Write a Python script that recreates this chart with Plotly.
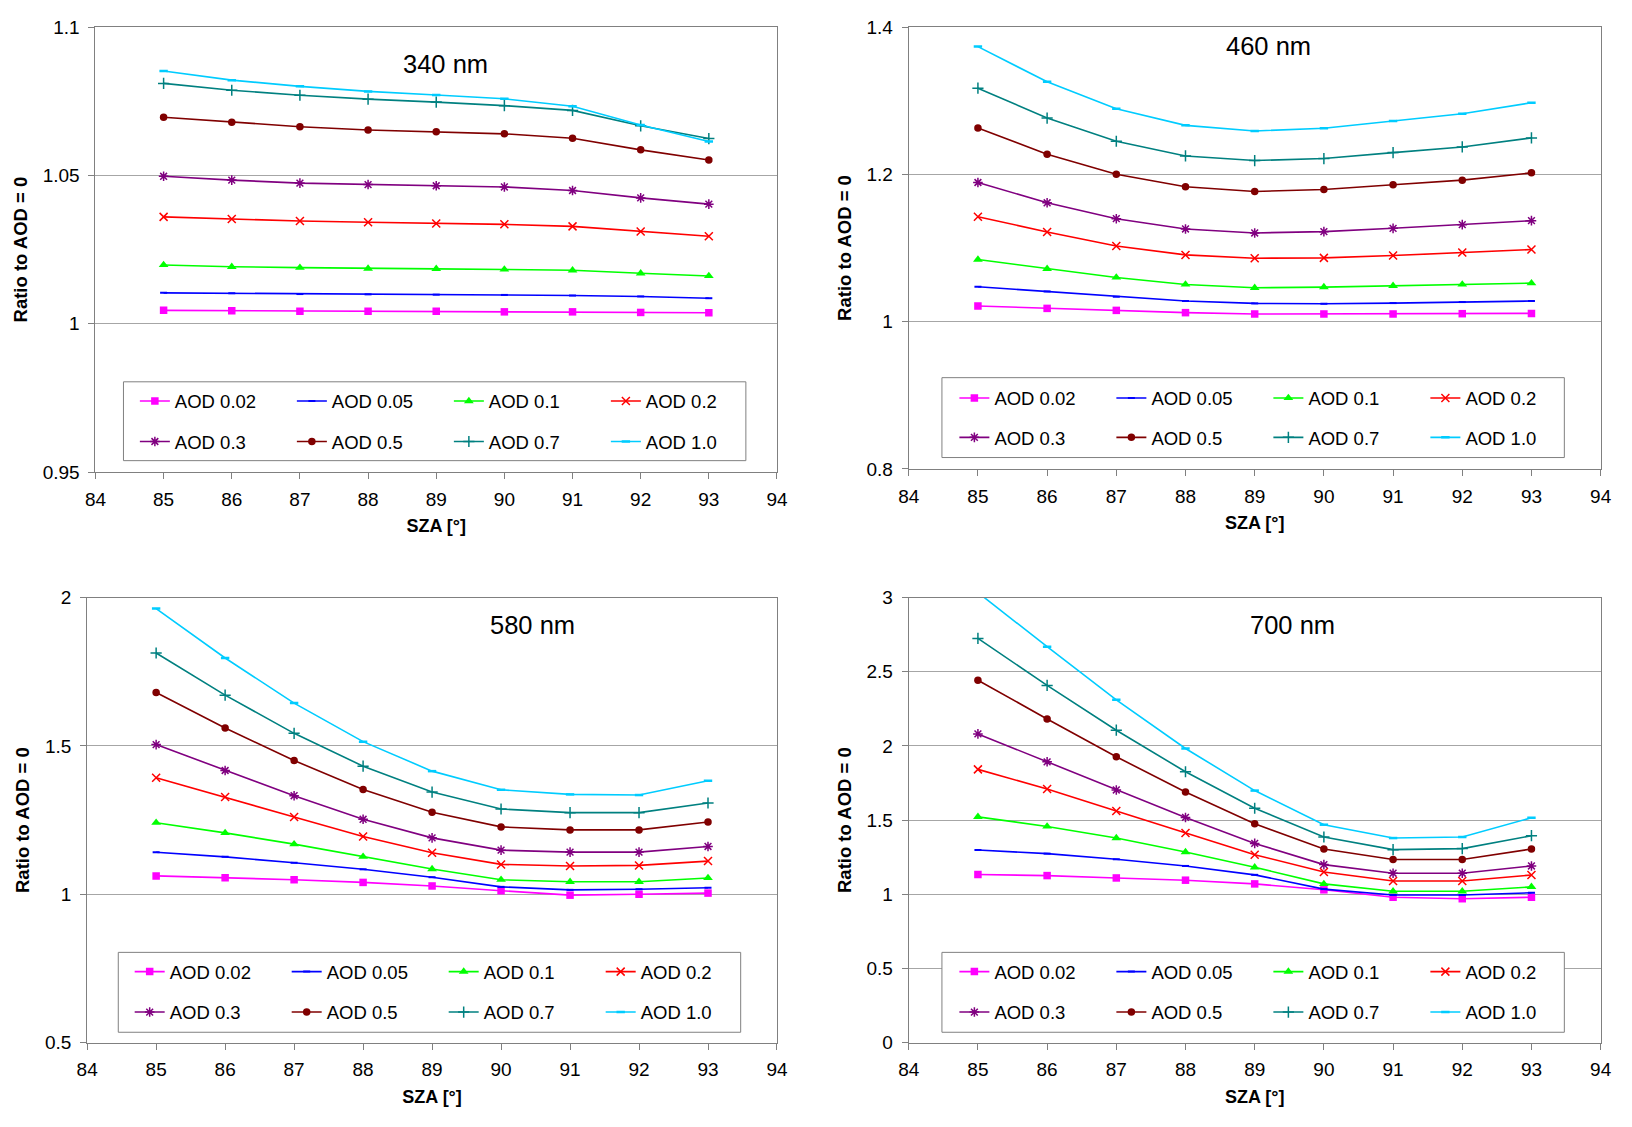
import plotly.graph_objects as go

# ---------------- data ----------------
sza = [85, 86, 87, 88, 89, 90, 91, 92, 93]
aod_labels = ["AOD 0.02", "AOD 0.05", "AOD 0.1", "AOD 0.2",
              "AOD 0.3", "AOD 0.5", "AOD 0.7", "AOD 1.0"]
panel_titles = ["340 nm", "460 nm", "580 nm", "700 nm"]
x_ticks = [84, 85, 86, 87, 88, 89, 90, 91, 92, 93, 94]

# 340 nm
r340_002 = [1.0045, 1.0044, 1.0042, 1.0042, 1.0042, 1.0040, 1.0040, 1.0038, 1.0037]
r340_005 = [1.0104, 1.0103, 1.0100, 1.0099, 1.0098, 1.0097, 1.0095, 1.0092, 1.0086]
r340_01 = [1.0198, 1.0192, 1.0189, 1.0186, 1.0185, 1.0183, 1.0180, 1.0170, 1.0161]
r340_02 = [1.0360, 1.0353, 1.0346, 1.0342, 1.0338, 1.0335, 1.0328, 1.0311, 1.0295]
r340_03 = [1.0497, 1.0484, 1.0474, 1.0469, 1.0465, 1.0461, 1.0449, 1.0424, 1.0403]
r340_05 = [1.0696, 1.0679, 1.0664, 1.0653, 1.0647, 1.0640, 1.0625, 1.0586, 1.0552]
r340_07 = [1.0810, 1.0787, 1.0770, 1.0757, 1.0747, 1.0735, 1.0719, 1.0667, 1.0624]
r340_10 = [1.0852, 1.0821, 1.0800, 1.0783, 1.0771, 1.0758, 1.0733, 1.0670, 1.0614]

# 460 nm
r460_002 = [1.0212, 1.0180, 1.0153, 1.0122, 1.0104, 1.0104, 1.0104, 1.0108, 1.0112]
r460_005 = [1.0473, 1.0410, 1.0338, 1.0280, 1.0248, 1.0243, 1.0252, 1.0266, 1.0280]
r460_01 = [1.0843, 1.0717, 1.0600, 1.0505, 1.0460, 1.0469, 1.0487, 1.0505, 1.0523]
r460_02 = [1.1425, 1.1218, 1.1028, 1.0906, 1.0861, 1.0866, 1.0897, 1.0938, 1.0979]
r460_03 = [1.1889, 1.1614, 1.1398, 1.1258, 1.1204, 1.1222, 1.1267, 1.1317, 1.1371]
r460_05 = [1.2629, 1.2273, 1.2002, 1.1831, 1.1768, 1.1795, 1.1858, 1.1921, 1.2020]
r460_07 = [1.3170, 1.2764, 1.2449, 1.2250, 1.2187, 1.2214, 1.2295, 1.2372, 1.2494]
r460_10 = [1.3734, 1.3256, 1.2891, 1.2665, 1.2589, 1.2625, 1.2724, 1.2823, 1.2972]

# 580 nm
r580_002 = [1.062, 1.056, 1.049, 1.040, 1.028, 1.012, 0.997, 1.000, 1.004]
r580_005 = [1.1416, 1.1261, 1.1062, 1.0841, 1.0575, 1.025, 1.015, 1.017, 1.022]
r580_01 = [1.2412, 1.2069, 1.1690, 1.1268, 1.0850, 1.049, 1.042, 1.042, 1.055]
r580_02 = [1.3926, 1.3277, 1.2606, 1.1946, 1.1398, 1.1007, 1.0951, 1.0973, 1.1119]
r580_03 = [1.5045, 1.4172, 1.3322, 1.2528, 1.1902, 1.1488, 1.1421, 1.1421, 1.1611]
r580_05 = [1.6801, 1.5604, 1.4508, 1.3535, 1.2763, 1.2271, 1.2170, 1.2170, 1.2438]
r580_07 = [1.8132, 1.6711, 1.5425, 1.4318, 1.3445, 1.2875, 1.2752, 1.2752, 1.3076]
r580_10 = [1.9631, 1.7964, 1.6443, 1.5145, 1.4150, 1.3523, 1.3367, 1.3345, 1.3826]

# 700 nm
r700_002 = [1.133, 1.126, 1.110, 1.095, 1.070, 1.030, 0.980, 0.970, 0.980]
r700_005 = [1.299, 1.274, 1.236, 1.191, 1.131, 1.035, 0.995, 0.995, 1.010]
r700_01 = [1.522, 1.457, 1.379, 1.285, 1.182, 1.070, 1.020, 1.020, 1.050]
r700_02 = [1.842, 1.710, 1.562, 1.413, 1.267, 1.150, 1.090, 1.090, 1.130]
r700_03 = [2.081, 1.893, 1.703, 1.518, 1.343, 1.200, 1.142, 1.142, 1.191]
r700_05 = [2.443, 2.182, 1.927, 1.690, 1.475, 1.305, 1.234, 1.234, 1.305]
r700_07 = [2.725, 2.408, 2.106, 1.826, 1.580, 1.386, 1.301, 1.308, 1.395]
r700_10 = [3.034, 2.669, 2.311, 1.983, 1.699, 1.469, 1.379, 1.386, 1.516]

panels = [
    [r340_002, r340_005, r340_01, r340_02, r340_03, r340_05, r340_07, r340_10],
    [r460_002, r460_005, r460_01, r460_02, r460_03, r460_05, r460_07, r460_10],
    [r580_002, r580_005, r580_01, r580_02, r580_03, r580_05, r580_07, r580_10],
    [r700_002, r700_005, r700_01, r700_02, r700_03, r700_05, r700_07, r700_10],
]
y_ranges = [[0.95, 1.1], [0.8, 1.4], [0.5, 2.0], [0.0, 3.0]]
y_dticks = [0.05, 0.2, 0.5, 0.5]

# ---------------- styles ----------------
W, H = 1632, 1127
colors = ["#FF00FF", "#0000FF", "#00FF00", "#FF0000",
          "#800080", "#800000", "#008080", "#00CCFF"]
symbols = ["square", "line-ew", "triangle-up", "x-thin",
           "asterisk", "circle", "cross-thin", "line-ew"]
sizes = [7.5, 5, 8.5, 8, 8, 7.5, 8, 6]
mlw = [0, 2, 0, 1.5, 1.5, 0, 1.5, 2.5]

# target positions (pixels on the final picture)
boxes = [(89, 746, 24, 453), (873, 1540, 24, 450),
         (81, 746, 574, 1003), (873, 1540, 574, 1003)]
title_pos = [(426, 60), (1220, 42), (510, 600), (1243, 600)]
legend_box = [(116, 716, 366, 442), (905, 1505, 362, 439),
              (111, 711, 916, 993), (905, 1505, 916, 993)]
legend_rows = [(385, 424), (382, 420), (935, 974), (935, 974)]
legend_mx = [148, 938, 143, 938]

FONT = "Liberation Sans, Arial, sans-serif"

# picture-to-layout calibration (observed render offset/scale)
SX, SY, OFF = 0.951, 0.946, 15.3


def px(d):
    return ((d - OFF) / SX) / W


def py(d):
    return 1 - ((d - OFF) / SY) / H


fig = go.Figure()
layout = dict(
    width=W, height=H,
    margin=dict(l=0, r=0, t=0, b=0),
    paper_bgcolor="white", plot_bgcolor="white",
    font=dict(family=FONT, size=18, color="black"),
    showlegend=True,
    shapes=[], annotations=[],
)

for p in range(4):
    xa = "x" if p == 0 else f"x{p+1}"
    ya = "y" if p == 0 else f"y{p+1}"
    lg1 = f"legend{2*p+1}" if p > 0 else "legend"
    lg2 = f"legend{2*p+2}"
    for i, vals in enumerate(panels[p]):
        fig.add_trace(go.Scatter(
            x=sza, y=vals, name=aod_labels[i], mode="lines+markers",
            xaxis=xa, yaxis=ya,
            legend=lg1 if i < 4 else lg2,
            line=dict(color=colors[i], width=1.6),
            marker=dict(symbol=symbols[i], size=sizes[i], color=colors[i],
                        line=dict(color=colors[i], width=mlw[i])),
            cliponaxis=True,
        ))
    l, r, t, b = boxes[p]
    xkey = "xaxis" if p == 0 else f"xaxis{p+1}"
    ykey = "yaxis" if p == 0 else f"yaxis{p+1}"
    layout[xkey] = dict(
        domain=[px(l), px(r)], anchor=ya, range=[84, 94],
        tickmode="array", tickvals=x_ticks,
        ticks="outside", ticklen=6, tickcolor="#808080",
        ticklabelstandoff=4,
        showline=True, linecolor="#808080", linewidth=1, mirror=True,
        showgrid=False, zeroline=False,
        tickfont=dict(size=19),
        title=dict(text="<b>SZA [°]</b>", font=dict(size=18), standoff=10),
    )
    lo, hi = y_ranges[p]
    layout[ykey] = dict(
        domain=[py(b), py(t)], anchor=xa, range=[lo, hi],
        dtick=y_dticks[p], tick0=lo,
        ticks="outside", ticklen=6, tickcolor="#808080",
        ticklabelstandoff=5,
        showline=True, linecolor="#808080", linewidth=1, mirror=True,
        showgrid=True, gridcolor="#A6A6A6", gridwidth=1, zeroline=False,
        tickfont=dict(size=19),
        title=dict(text="<b>Ratio to AOD = 0</b>", font=dict(size=18.5), standoff=10),
    )
    # panel title
    tx, ty = title_pos[p]
    layout["annotations"].append(dict(
        text=panel_titles[p], x=px(tx), y=py(ty), xref="paper", yref="paper",
        showarrow=False, font=dict(size=25.5, color="black"),
        xanchor="center", yanchor="middle"))
    # legend box
    bl, br, bt, bb = legend_box[p]
    layout["shapes"].append(dict(
        type="rect", xref="paper", yref="paper",
        x0=px(bl), x1=px(br), y0=py(bb), y1=py(bt),
        line=dict(color="#808080", width=1), fillcolor="white", layer="above"))
    for k, lg in enumerate([lg1, lg2]):
        layout[lg] = dict(
            x=px(legend_mx[p] - 21), y=py(legend_rows[p][k]),
            xanchor="left", yanchor="middle", orientation="h",
            entrywidth=112, entrywidthmode="pixels",
            bgcolor="rgba(0,0,0,0)", borderwidth=0,
            font=dict(size=18.5, color="black"), tracegroupgap=0,
        )

fig.update_layout(**layout)
fig.write_html("out.html")
